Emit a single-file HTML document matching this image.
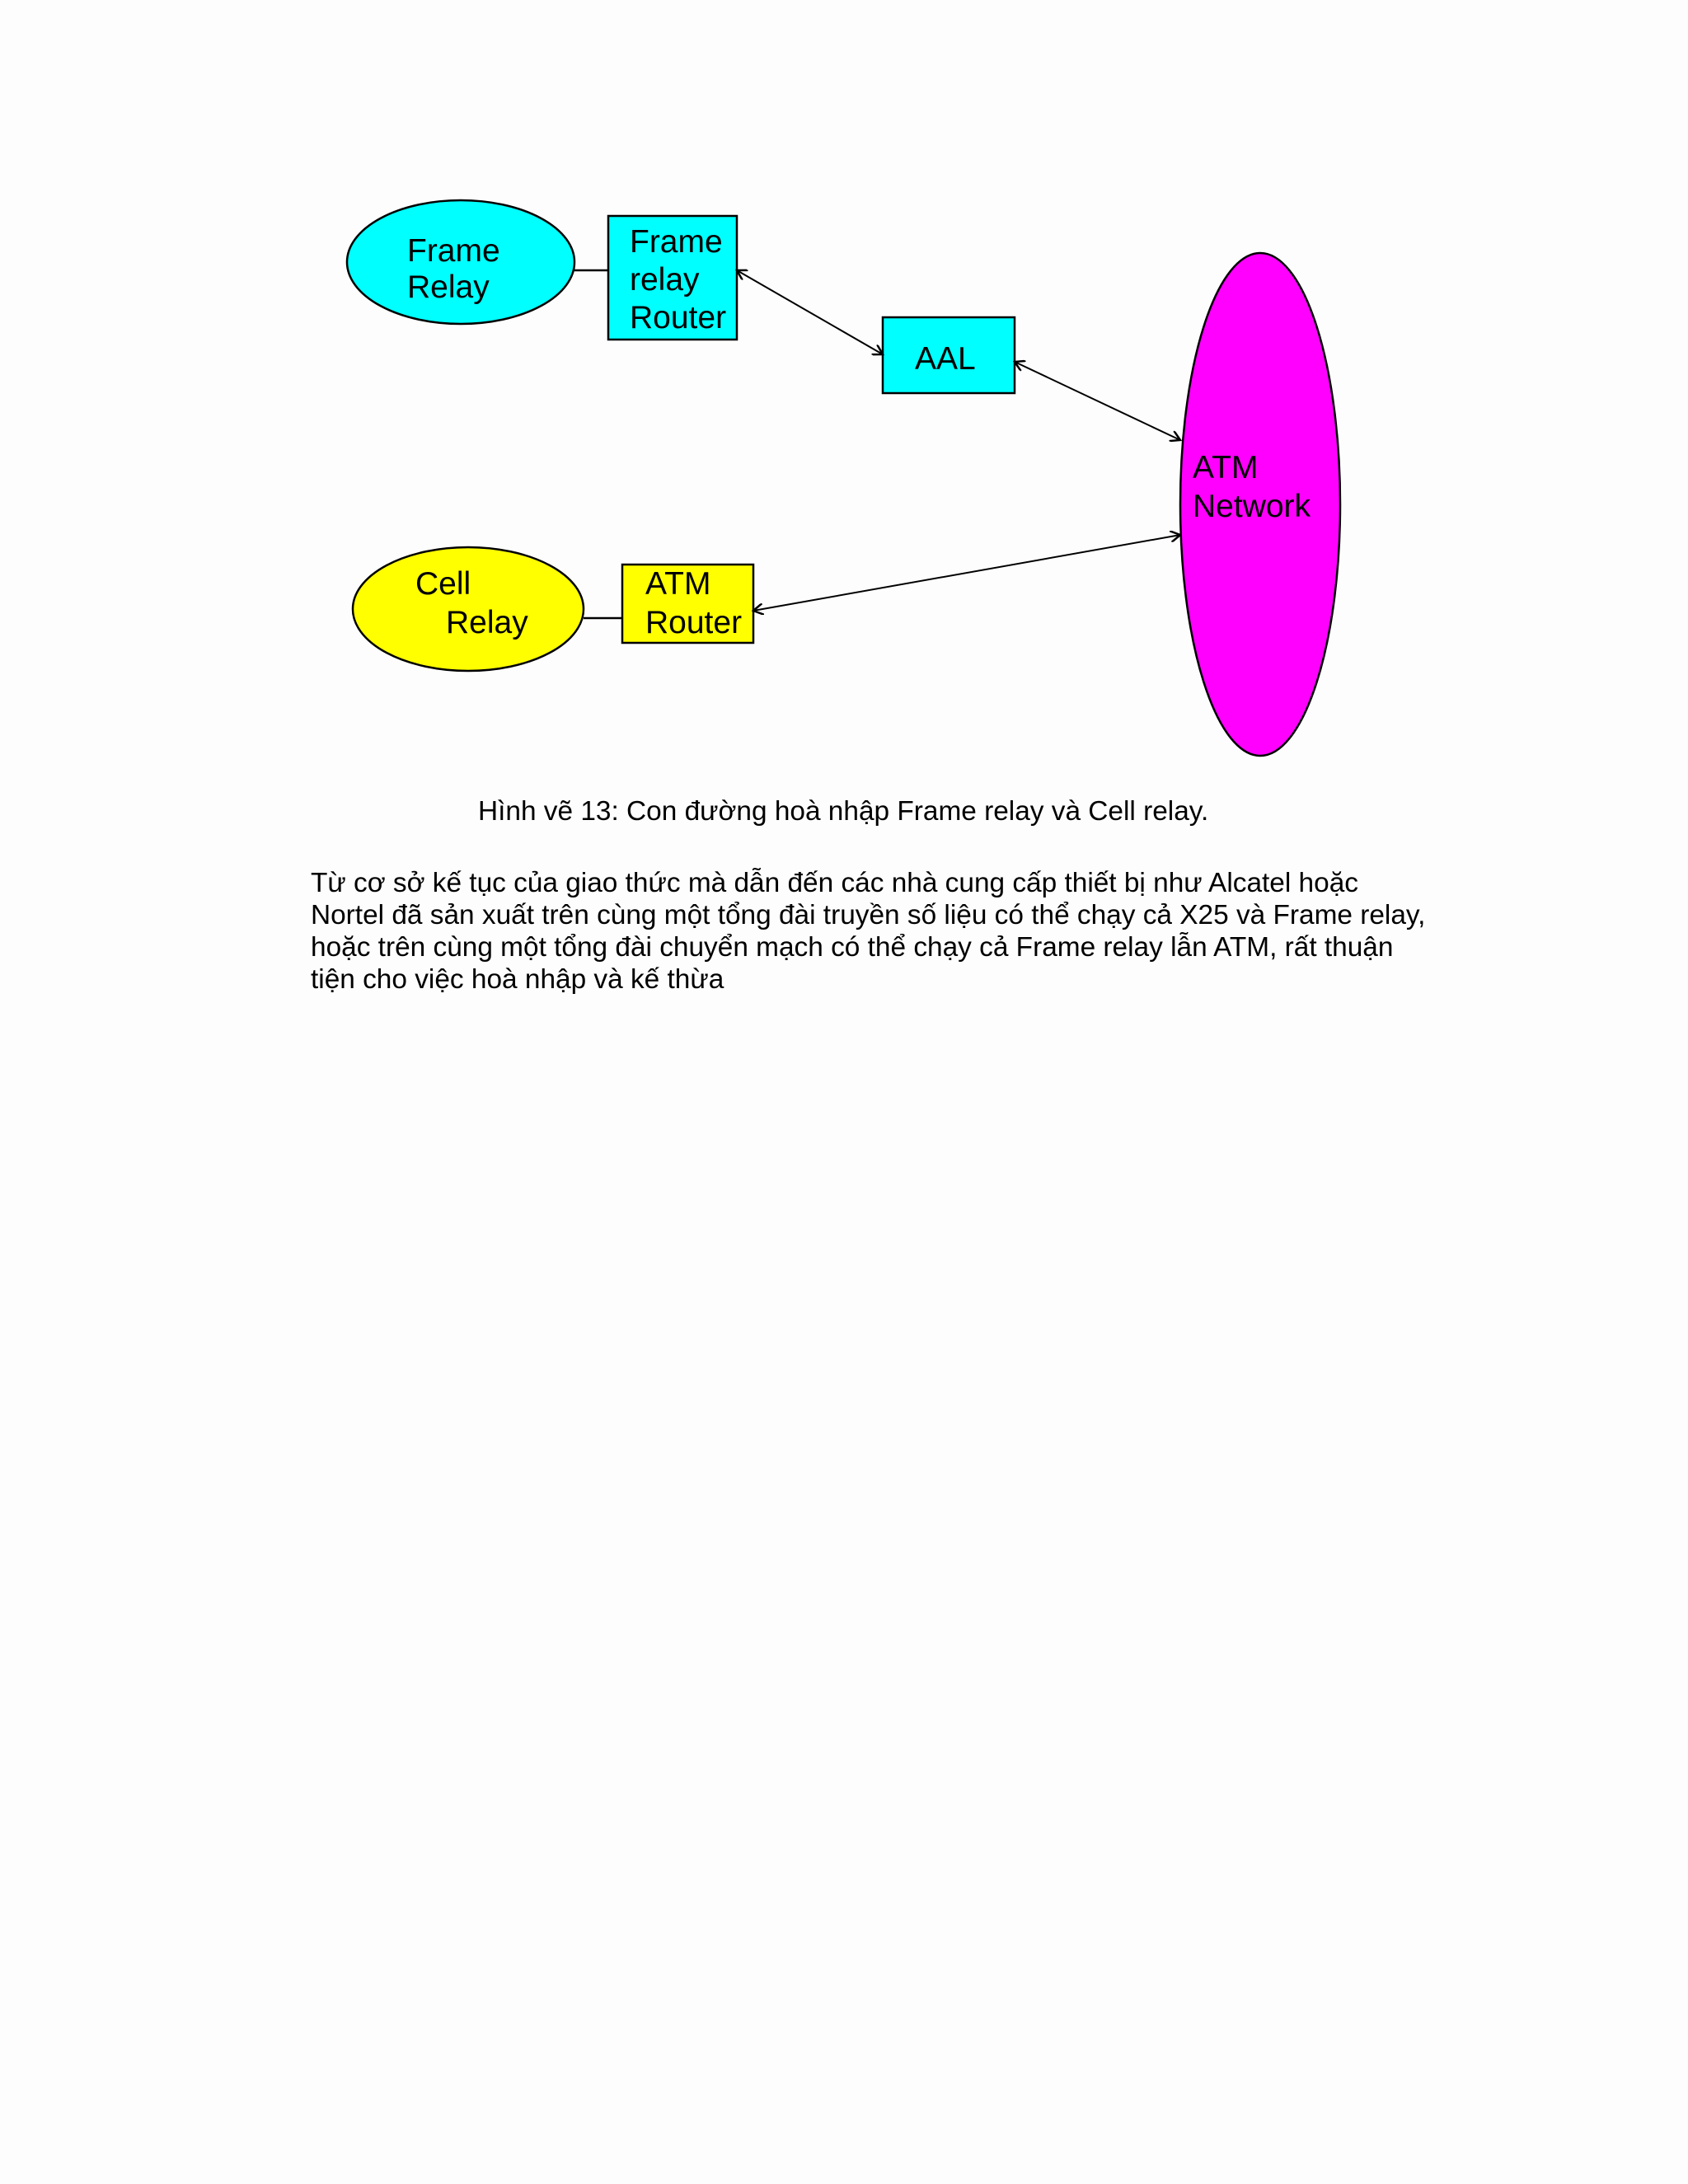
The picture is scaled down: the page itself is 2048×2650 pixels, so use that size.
<!DOCTYPE html>
<html><head><meta charset="utf-8"><style>
html,body{margin:0;padding:0;background:#fdfdfd;}
body{width:2048px;height:2650px;position:relative;overflow:hidden;font-family:"Liberation Sans",Arial,sans-serif;}
.p{position:absolute;left:377px;font-size:33.4px;line-height:39px;color:#000;white-space:nowrap;}
</style></head><body>
<svg width="2048" height="1000" style="position:absolute;left:0;top:0" font-family="Liberation Sans, Arial, sans-serif" font-size="39">
<defs><marker id="a" markerWidth="14" markerHeight="14" refX="12" refY="7" orient="auto-start-reverse" markerUnits="userSpaceOnUse"><path d="M0,0 L12,7 L0,14" fill="none" stroke="#000" stroke-width="2.5"/></marker></defs>
<g transform="translate(-3,0)">
<line x1="700" y1="328" x2="741" y2="328" stroke="#000" stroke-width="2.5"/>
<line x1="711" y1="750" x2="758" y2="750" stroke="#000" stroke-width="2.5"/>
<ellipse cx="562" cy="318" rx="138" ry="75" fill="#00ffff" stroke="#000" stroke-width="2.5"/>
<rect x="741" y="262" width="156" height="150" fill="#00ffff" stroke="#000" stroke-width="2.5"/>
<rect x="1074" y="385" width="160" height="92" fill="#00ffff" stroke="#000" stroke-width="2.5"/>
<ellipse cx="1532" cy="612" rx="97" ry="305" fill="#ff00ff" stroke="#000" stroke-width="2.5"/>
<ellipse cx="571" cy="739" rx="140" ry="75" fill="#ffff00" stroke="#000" stroke-width="2.5"/>
<rect x="758" y="685" width="159" height="95" fill="#ffff00" stroke="#000" stroke-width="2.5"/>
<g stroke="#000" stroke-width="2" marker-start="url(#a)" marker-end="url(#a)">
<line x1="897" y1="328" x2="1074" y2="430"/>
<line x1="1234" y1="439" x2="1435" y2="534"/>
<line x1="917" y1="741" x2="1435" y2="649"/>
</g>
<g fill="#000">
<text x="497" y="317">Frame</text><text x="497" y="361">Relay</text>
<text x="767" y="306">Frame</text><text x="767" y="352">relay</text><text x="767" y="398">Router</text>
<text x="1113" y="448">AAL</text>
<text x="1450" y="580">ATM</text><text x="1450" y="627">Network</text>
<text x="507" y="721">Cell</text><text x="544" y="768">Relay</text>
<text x="786" y="721">ATM</text><text x="786" y="768">Router</text>
</g>
</g>
</svg>
<div class="p" style="left:580px;top:965px;">Hình vẽ 13: Con đường hoà nhập Frame relay và Cell relay.</div>
<div class="p" style="top:1052px;">Từ cơ sở kế tục của giao thức mà dẫn đến các nhà cung cấp thiết bị như Alcatel hoặc<br>Nortel đã sản xuất trên cùng một tổng đài truyền số liệu có thể chạy cả X25 và Frame relay,<br>hoặc trên cùng một tổng đài chuyển mạch có thể chạy cả Frame relay lẫn ATM, rất thuận<br>tiện cho việc hoà nhập và kế thừa</div>
</body></html>
